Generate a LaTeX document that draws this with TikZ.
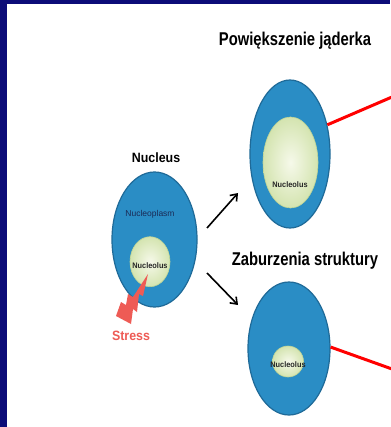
\documentclass[tikz,border=0pt]{standalone}
\usepackage{fontspec}
\setmainfont{Liberation Sans}
\newfontfamily\headfont[FakeStretch=0.8]{Liberation Sans}
\newfontfamily\tagfont[FakeStretch=0.92]{Liberation Sans}
\usetikzlibrary{shapes.geometric,arrows.meta}

\definecolor{frameblue}{HTML}{0C0C78}
\definecolor{nucblue}{HTML}{2A8DC5}
\definecolor{nucedge}{HTML}{1F6A98}
\definecolor{ncin}{HTML}{F6F9EA}
\definecolor{ncout}{HTML}{D4E4B0}
\definecolor{ncedge}{HTML}{BFD596}
\definecolor{stressred}{HTML}{EE5B55}
\definecolor{plasmtext}{HTML}{1B2A55}

\tikzset{
  nucleus/.style={ellipse, draw=nucedge, line width=1.2pt, fill=nucblue, inner sep=0pt},
  nucleolus/.style={ellipse, draw=ncedge, line width=0.6pt, inner color=ncin, outer color=ncout, inner sep=0pt},
  heading/.style={font=\headfont\bfseries\fontsize{18.5}{20}\selectfont, text=black, inner sep=0pt},
  tag/.style={font=\tagfont\bfseries\fontsize{13.5}{14}\selectfont, inner sep=0pt},
  small/.style={font=\fontsize{8.5}{9}\selectfont, inner sep=0pt},
  smallbold/.style={font=\tagfont\bfseries\fontsize{8}{9}\selectfont, inner sep=0pt, text=black!85},
  flow/.style={line width=1.6pt, -{Straight Barb[length=6pt,width=9pt]}},
  pointer/.style={red, line width=3pt},
}

\begin{document}
\begin{tikzpicture}[x=1pt, y=-1pt]
  % page area and frame
  \useasboundingbox (0,0) rectangle (390,427);
  \fill[white] (0,0) rectangle (390,427);
  \fill[frameblue] (0,0) rectangle (7,427);
  \fill[frameblue] (0,0) rectangle (390,4);

  % headings
  \node[heading] (h1) at (295,41) {Powiększenie jąderka};
  \node[heading] (h2) at (305,261) {Zaburzenia struktury};

  % original nucleus
  \node[tag] (nuclabel) at (156,158) {Nucleus};
  \node[nucleus, minimum width=85pt, minimum height=135pt] (nuc) at (154.5,239.5) {};
  \node[small, text=plasmtext] (plasm) at (150,214) {Nucleoplasm};
  \node[nucleolus, minimum width=40pt, minimum height=50pt] (ncl) at (150,261.7) {};
  \node[smallbold] (ncltext) at (150,266) {Nucleolus};

  % stress bolt striking the nucleolus
  \fill[stressred] (148,274) -- (143,296) -- (139,294) -- (137,312) -- (133,309)
        -- (131,324) -- (116,316) -- (121,302) -- (126,305) -- (128,294)
        -- (133,297) -- cycle;
  \node[tag, text=stressred] (stress) at (131,336) {Stress};

  % enlarged nucleolus
  \node[nucleus, minimum width=80pt, minimum height=148pt] (big) at (290,154) {};
  \node[nucleolus, minimum width=55pt, minimum height=91pt] (bigncl) at (290.5,162.5) {};
  \node[smallbold] (bigtext) at (290,185) {Nucleolus};

  % disturbed structure
  \node[nucleus, minimum width=82pt, minimum height=133pt] (small) at (289,348.5) {};
  \node[nucleolus, minimum width=31pt, minimum height=31pt] (smallncl) at (288,361.5) {};
  \node[smallbold] (smalltext) at (288,365) {Nucleolus};

  % transition arrows
  \coordinate (upfrom) at (207,228);
  \coordinate (upto) at (238,193);
  \coordinate (downfrom) at (207,273);
  \coordinate (downto) at (238,305);
  \draw[flow] (upfrom) -- (upto);
  \draw[flow] (downfrom) -- (downto);

  % red pointers leaving the picture
  \coordinate (outA) at (392,97);
  \coordinate (outB) at (392,369);
  \draw[pointer] (big.38) -- (outA);
  \draw[pointer] (small.2) -- (outB);
\end{tikzpicture}
\end{document}
